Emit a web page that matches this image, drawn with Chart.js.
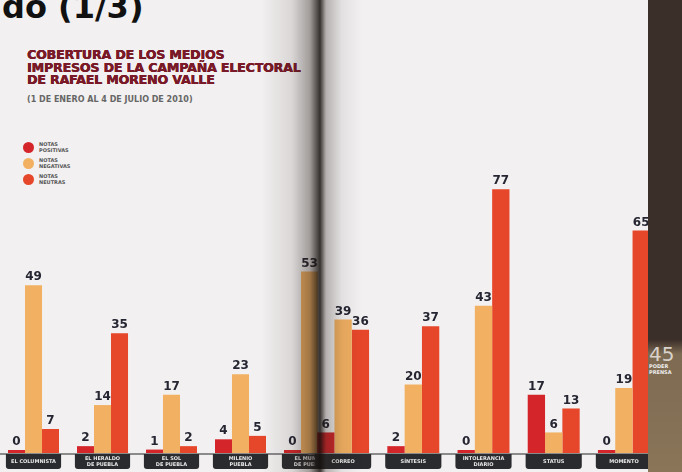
<!DOCTYPE html>
<html>
<head>
<meta charset="utf-8">
<script src="https://cdn.jsdelivr.net/npm/chart.js@4"></script>
<style>
  html, body { margin: 0; padding: 0; }
  body { width: 682px; height: 472px; position: relative; overflow: hidden; background: #f2f0f0; font-family: "DejaVu Sans", sans-serif; }
  .cut { position: absolute; left: 2px; top: -12px; font: bold 32px "DejaVu Sans", sans-serif; color: #111; }
  .title { position: absolute; left: 27px; top: 49px; font: bold 12.5px/12.5px "DejaVu Sans", sans-serif; color: #7a1a28; letter-spacing: -0.1px; text-shadow: 0.4px 0 0 #7a1a28, 0 0.4px 0 #5a1520; }
  .subtitle { position: absolute; left: 27px; top: 95px; font: bold 8px "DejaVu Sans", sans-serif; color: #666; }
  .legend { position: absolute; left: 23px; top: 141px; }
  .legend div { position: relative; height: 16px; }
  .legend span.dot { position: absolute; left: 0; top: 1px; width: 11px; height: 11px; border-radius: 50%; }
  .legend span.txt { position: absolute; left: 16px; top: 0; font: bold 5px/6px "DejaVu Sans", sans-serif; color: #555; }
  #leftWrap { position: absolute; left: 0; top: 170px; width: 320px; height: 302px; overflow: hidden; }
  #leftChart { position: absolute; left: -1px; top: 0; }
  #rightChart { position: absolute; left: 308px; top: 170px; }
  .gutter { position: absolute; left: 262px; top: 0; width: 100px; height: 472px; pointer-events: none;
    background: linear-gradient(to right, rgba(0,0,0,0) 0%, rgba(40,30,25,0.12) 30%, rgba(40,30,25,0.4) 48%, rgba(20,15,12,0.85) 58%, rgba(40,30,25,0.3) 64%, rgba(0,0,0,0.06) 80%, rgba(0,0,0,0) 100%); }
  .margin { position: absolute; left: 648px; top: 0; width: 34px; height: 472px;
    background: linear-gradient(to bottom, #3b2f2a 0%, #3b2f2a 72%, #7d6a52 75%, #8a7558 100%); }
  .page { position: absolute; left: 649px; top: 344px; color: #d9d2ca; }
  .page b { display: block; font: 20px/20px "DejaVu Sans", sans-serif; }
  .page i { display: block; font: bold 5px/5.5px "DejaVu Sans", sans-serif; font-style: normal; color: #eee; }
</style>
</head>
<body>
<div class="cut">do (1/3)</div>
<div class="title">COBERTURA DE LOS MEDIOS<br>IMPRESOS DE LA CAMPAÑA ELECTORAL<br>DE RAFAEL MORENO VALLE</div>
<div class="subtitle">(1 DE ENERO AL 4 DE JULIO DE 2010)</div>
<div class="legend" id="legend"></div>

<div id="leftWrap"><canvas id="leftChart" width="345" height="302"></canvas></div>
<canvas id="rightChart" width="351" height="302"></canvas>
<div class="gutter"></div>
<div class="margin"></div>
<div class="page"><b>45</b><i>PODER<br>PRENSA</i></div>

<script>
  // Medios impresos (the fifth one is partly lost in the fold of the page)
  const categories = [
    ['EL COLUMNISTA'],
    ['EL HERALDO', 'DE PUEBLA'],
    ['EL SOL', 'DE PUEBLA'],
    ['MILENIO', 'PUEBLA'],
    ['EL MUNDO', 'DE PUEBLA'],
    ['CORREO'],
    ['SÍNTESIS'],
    ['INTOLERANCIA', 'DIARIO'],
    ['STATUS'],
    ['MOMENTO']
  ];

  const positivas = [0, 2, 1, 4, 0, 6, 2, 0, 17, 0];
  const negativas = [49, 14, 17, 23, 53, 39, 20, 43, 6, 19];
  const neutrales = [7, 35, 2, 5, null, 36, 37, 77, 13, 65];

  const seriesNames = ['NOTAS\nPOSITIVAS', 'NOTAS\nNEGATIVAS', 'NOTAS\nNEUTRAS'];
  const seriesColors = ['#d4262a', '#f1b062', '#e6472a'];

  // legend
  const legend = document.getElementById('legend');
  seriesNames.forEach((name, i) => {
    const row = document.createElement('div');
    row.innerHTML = '<span class="dot" style="background:' + seriesColors[i] + '"></span>' +
      '<span class="txt">' + name.replace('\n', '<br>') + '</span>';
    legend.appendChild(row);
  });

  // value labels above each bar
  const valueLabels = {
    id: 'valueLabels',
    afterDatasetsDraw(chart) {
      const ctx = chart.ctx;
      ctx.save();
      ctx.font = 'bold 12px "DejaVu Sans", sans-serif';
      ctx.fillStyle = '#262633';
      ctx.textAlign = 'center';
      ctx.textBaseline = 'bottom';
      chart.data.datasets.forEach((ds, d) => {
        chart.getDatasetMeta(d).data.forEach((bar, i) => {
          const v = ds.data[i];
          if (v === null || v === undefined) return;
          ctx.fillText(String(v), bar.x, bar.y - 2);
        });
      });
      ctx.restore();
    }
  };

  // base line and dark name boxes under each group
  const nameBoxes = {
    id: 'nameBoxes',
    afterDraw(chart) {
      const ctx = chart.ctx;
      const area = chart.chartArea;
      const xs = chart.scales.x;
      const slot = area.width / chart.data.labels.length;
      ctx.save();
      ctx.strokeStyle = '#6a6a6a';
      ctx.lineWidth = 1.5;
      ctx.beginPath();
      ctx.moveTo(0, area.bottom + 1);
      ctx.lineTo(chart.width, area.bottom + 1);
      ctx.stroke();
      chart.data.labels.forEach((lab, i) => {
        const cx = xs.getPixelForValue(i);
        const w = slot * 0.8, h = 15;
        const x = cx - w / 2, y = area.bottom + 1;
        ctx.fillStyle = '#2a2b2e';
        ctx.beginPath();
        ctx.roundRect(x, y, w, h, [0, 0, 3, 3]);
        ctx.fill();
        ctx.fillStyle = '#e8e8e8';
        ctx.font = 'bold 5px "DejaVu Sans", sans-serif';
        ctx.textAlign = 'center';
        ctx.textBaseline = 'middle';
        const lines = Array.isArray(lab) ? lab : [lab];
        lines.forEach((t, k) => {
          ctx.fillText(t, cx, y + h / 2 + (k - (lines.length - 1) / 2) * 5.5);
        });
      });
      ctx.restore();
    }
  };

  function makeChart(id, from, to) {
    return new Chart(document.getElementById(id), {
      type: 'bar',
      data: {
        labels: categories.slice(from, to),
        datasets: [positivas, negativas, neutrales].map((arr, i) => ({
          label: seriesNames[i],
          data: arr.slice(from, to),
          backgroundColor: seriesColors[i],
          borderWidth: 0,
          minBarLength: 3,
          barPercentage: 1.0,
          categoryPercentage: 0.74
        }))
      },
      options: {
        responsive: false,
        animation: false,
        devicePixelRatio: 1,
        layout: { padding: { top: 9, bottom: 19, left: 0, right: 0 } },
        plugins: { legend: { display: false }, tooltip: { enabled: false } },
        scales: {
          x: { display: false, grid: { display: false } },
          y: { display: false, min: 0, max: 80, grid: { display: false } }
        }
      },
      plugins: [valueLabels, nameBoxes]
    });
  }

  makeChart('leftChart', 0, 5);
  makeChart('rightChart', 5, 10);
</script>
</body>
</html>
